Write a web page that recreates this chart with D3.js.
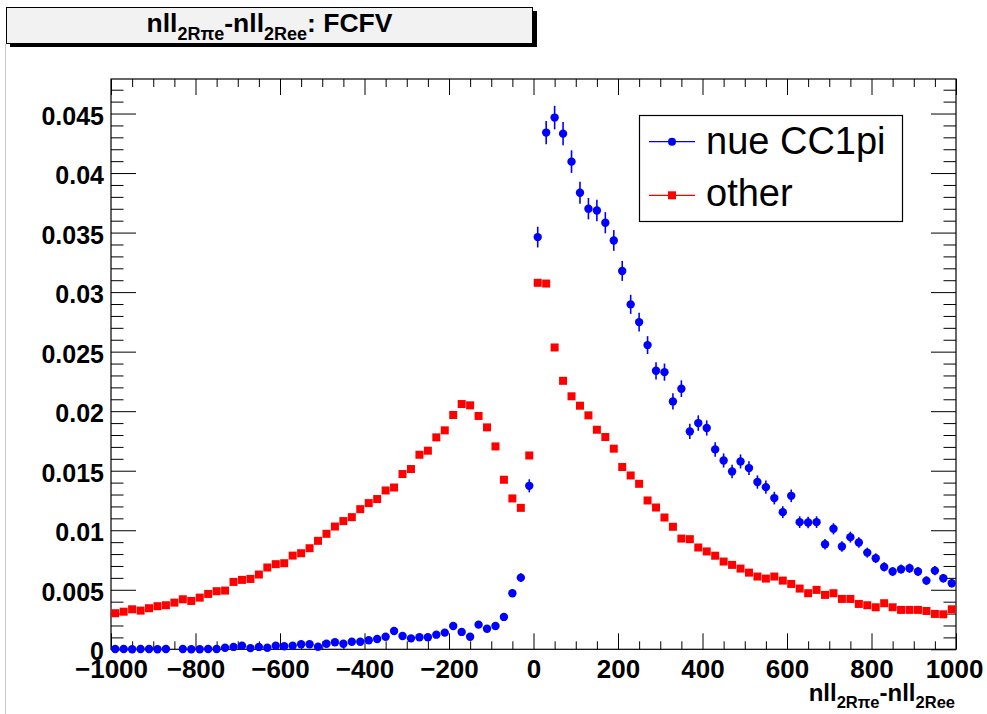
<!DOCTYPE html>
<html>
<head>
<meta charset="utf-8">
<script src="https://cdn.jsdelivr.net/npm/d3@7"></script>
<style>
  html, body { margin: 0; padding: 0; background: #fff; }
  svg { display: block; }
  text { font-family: "Liberation Sans", Arial, Helvetica, sans-serif; }
</style>
</head>
<body>
<svg id="chart" width="987" height="714"></svg>
<script>
// ---------------- data ----------------
const binLow = -1000;      // first bin lower edge
const binWidth = 20;       // bin width
const seriesNames = ["nue CC1pi", "other"];

// nue CC1pi (blue circles), 100 bins from -1000 to 1000; null = empty bin
const nueCC1pi = [
  0.00003, 0.00002, 0.00001, 0.00002, 0.00002, 0.00001, 0.00003, null, 0.00002, 0.00001,
  0.00001, 0.00003, 0.00002, 0.00013, 0.00020, 0.00030, 0.00010, 0.00020, 0.00013, 0.00030,
  0.00025, 0.00030, 0.00042, 0.00042, 0.00022, 0.00047, 0.00059, 0.00047, 0.00064, 0.00064,
  0.00076, 0.00087, 0.00106, 0.00154, 0.00112, 0.00092, 0.00101, 0.00101, 0.00123, 0.00140,
  0.00196, 0.00146, 0.00106, 0.00207, 0.00173, 0.00196, 0.00272, 0.00471, 0.00602, 0.01373,
  0.03462, 0.04340, 0.04466, 0.04331, 0.04096, 0.03835, 0.03701, 0.03686, 0.03583, 0.03434,
  0.03178, 0.02897, 0.02748, 0.02555, 0.02339, 0.02328, 0.02082, 0.02189, 0.01830, 0.01900,
  0.01859, 0.01679, 0.01586, 0.01494, 0.01578, 0.01522, 0.01405, 0.01362, 0.01270, 0.01152,
  0.01289, 0.01068, 0.01065, 0.01068, 0.00883, 0.01012, 0.00863, 0.00942, 0.00897, 0.00812,
  0.00765, 0.00692, 0.00653, 0.00673, 0.00681, 0.00653, 0.00577, 0.00661, 0.00597, 0.00555
];
// vertical error bars of nue CC1pi
const nueCC1piErr = [
  0.00003, 0.00003, 0.00002, 0.00003, 0.00003, 0.00002, 0.00003, null, 0.00003, 0.00002,
  0.00002, 0.00003, 0.00003, 0.00005, 0.00007, 0.00008, 0.00005, 0.00007, 0.00005, 0.00008,
  0.00007, 0.00008, 0.00010, 0.00010, 0.00007, 0.00010, 0.00011, 0.00010, 0.00012, 0.00012,
  0.00013, 0.00014, 0.00015, 0.00018, 0.00016, 0.00014, 0.00015, 0.00015, 0.00016, 0.00018,
  0.00021, 0.00018, 0.00015, 0.00021, 0.00020, 0.00021, 0.00024, 0.00032, 0.00036, 0.00055,
  0.00087, 0.00098, 0.00099, 0.00098, 0.00095, 0.00092, 0.00090, 0.00090, 0.00089, 0.00087,
  0.00084, 0.00080, 0.00078, 0.00075, 0.00072, 0.00072, 0.00068, 0.00070, 0.00064, 0.00065,
  0.00064, 0.00061, 0.00059, 0.00057, 0.00059, 0.00058, 0.00056, 0.00055, 0.00053, 0.00050,
  0.00053, 0.00049, 0.00049, 0.00049, 0.00044, 0.00047, 0.00044, 0.00046, 0.00045, 0.00042,
  0.00041, 0.00039, 0.00038, 0.00039, 0.00039, 0.00038, 0.00036, 0.00038, 0.00036, 0.00035
];
// other (red squares)
const other = [
  0.00303, 0.00316, 0.00336, 0.00325, 0.00345, 0.00362, 0.00370, 0.00392, 0.00420, 0.00406,
  0.00434, 0.00465, 0.00488, 0.00493, 0.00566, 0.00583, 0.00591, 0.00628, 0.00687, 0.00715,
  0.00723, 0.00787, 0.00807, 0.00849, 0.00911, 0.00970, 0.01031, 0.01077, 0.01110, 0.01177,
  0.01228, 0.01262, 0.01334, 0.01359, 0.01472, 0.01514, 0.01634, 0.01668, 0.01780, 0.01839,
  0.01968, 0.02060, 0.02049, 0.01960, 0.01864, 0.01704, 0.01424, 0.01267, 0.01188, 0.01628,
  0.03078, 0.03072, 0.02535, 0.02255, 0.02125, 0.02046, 0.01965, 0.01844, 0.01783, 0.01685,
  0.01531, 0.01460, 0.01390, 0.01250, 0.01191, 0.01107, 0.01029, 0.00930, 0.00925, 0.00855,
  0.00822, 0.00786, 0.00737, 0.00709, 0.00678, 0.00644, 0.00611, 0.00594, 0.00611, 0.00577,
  0.00549, 0.00510, 0.00471, 0.00499, 0.00457, 0.00471, 0.00423, 0.00423, 0.00381, 0.00370,
  0.00353, 0.00387, 0.00353, 0.00331, 0.00331, 0.00331, 0.00322, 0.00297, 0.00294, 0.00336
];

const xMajorTicks = [-1000, -800, -600, -400, -200, 0, 200, 400, 600, 800, 1000];
const xTickLabels = ["\u22121000", "\u2212800", "\u2212600", "\u2212400", "\u2212200", "0", "200", "400", "600", "800", "1000"];
const yMajorTicks = [0, 0.005, 0.01, 0.015, 0.02, 0.025, 0.03, 0.035, 0.04, 0.045];
const yTickLabels = ["0", "0.005", "0.01", "0.015", "0.02", "0.025", "0.03", "0.035", "0.04", "0.045"];

// ---------------- layout ----------------
const L = 111, R = 956, T = 79, B = 649.3;
const svg = d3.select("#chart");

const x = d3.scaleLinear().domain([-1000, 1000]).range([L, R]);
const y = d3.scaleLinear().domain([0, 0.0479]).range([B, T]);

const xMinor = d3.range(-1000, 1000.1, 50).filter(v => !xMajorTicks.includes(v));
const yMinor = d3.range(0, 0.0475, 0.001).map(v => +v.toFixed(3)).filter(v => !yMajorTicks.some(m => Math.abs(m - v) < 1e-9));

// canvas border line on the left
svg.append("line").attr("x1", 5.5).attr("x2", 5.5).attr("y1", 44).attr("y2", 714)
  .attr("stroke", "#c8c8c8").attr("stroke-width", 1);

// ---------------- axes ----------------
function styleAxis(g) {
  g.select(".domain").remove();
  g.selectAll("line").attr("stroke", "#000").attr("stroke-width", 1);
}
// bottom: majors with labels
const xAxis = svg.append("g").attr("transform", `translate(0,${B})`)
  .call(d3.axisBottom(x).tickValues(xMajorTicks).tickSize(-16).tickSizeOuter(0).tickPadding(10)
    .tickFormat((d, i) => xTickLabels[i]));
styleAxis(xAxis);
xAxis.selectAll("text").attr("font-size", 26).attr("font-weight", "bold").attr("fill", "#000")
  .attr("font-family", "'Liberation Sans', Arial, sans-serif");
// keep last label inside the canvas
xAxis.selectAll(".tick").filter(d => d === 1000).select("text").attr("text-anchor", "end").attr("x", 983 - x(1000));
svg.append("g").attr("transform", `translate(0,${B})`)
  .call(d3.axisBottom(x).tickValues(xMinor).tickSize(-8).tickSizeOuter(0).tickFormat(""))
  .call(styleAxis);
// top axis ticks
svg.append("g").attr("transform", `translate(0,${T})`)
  .call(d3.axisTop(x).tickValues(xMajorTicks).tickSize(-16).tickSizeOuter(0).tickFormat(""))
  .call(styleAxis);
svg.append("g").attr("transform", `translate(0,${T})`)
  .call(d3.axisTop(x).tickValues(xMinor).tickSize(-8).tickSizeOuter(0).tickFormat(""))
  .call(styleAxis);

// left axis
const yAxis = svg.append("g").attr("transform", `translate(${L},0)`)
  .call(d3.axisLeft(y).tickValues(yMajorTicks).tickSize(-25).tickSizeOuter(0).tickPadding(7)
    .tickFormat((d, i) => yTickLabels[i]));
styleAxis(yAxis);
yAxis.selectAll("text").attr("font-size", 25).attr("font-weight", "bold").attr("fill", "#000")
  .attr("dy", "0.42em").attr("font-family", "'Liberation Sans', Arial, sans-serif");
svg.append("g").attr("transform", `translate(${L},0)`)
  .call(d3.axisLeft(y).tickValues(yMinor).tickSize(-12.5).tickSizeOuter(0).tickFormat(""))
  .call(styleAxis);
// right axis ticks
svg.append("g").attr("transform", `translate(${R},0)`)
  .call(d3.axisRight(y).tickValues(yMajorTicks).tickSize(-25).tickSizeOuter(0).tickFormat(""))
  .call(styleAxis);
svg.append("g").attr("transform", `translate(${R},0)`)
  .call(d3.axisRight(y).tickValues(yMinor).tickSize(-12.5).tickSizeOuter(0).tickFormat(""))
  .call(styleAxis);

// frame
svg.append("rect").attr("x", L).attr("y", T).attr("width", R - L).attr("height", B - T)
  .attr("fill", "none").attr("stroke", "#000").attr("stroke-width", 1.2);

// ---------------- data marks ----------------
const center = i => binLow + binWidth * (i + 0.5);
const blueData = nueCC1pi.map((v, i) => ({ x: center(i), v, e: nueCC1piErr[i] })).filter(d => d.v !== null);
const redData = other.map((v, i) => ({ x: center(i), v }));

const plot = svg.append("g");
plot.selectAll("line.err").data(blueData).enter().append("line").attr("class", "err")
  .attr("x1", d => x(d.x)).attr("x2", d => x(d.x))
  .attr("y1", d => y(Math.max(0, d.v - d.e))).attr("y2", d => y(d.v + d.e))
  .attr("stroke", "#0000ff").attr("stroke-width", 1.6);
plot.selectAll("rect.other").data(redData).enter().append("rect").attr("class", "other")
  .attr("x", d => x(d.x) - 4).attr("y", d => y(d.v) - 4).attr("width", 8).attr("height", 8)
  .attr("fill", "#ff0000");
plot.selectAll("circle.nue").data(blueData).enter().append("circle").attr("class", "nue")
  .attr("cx", d => x(d.x)).attr("cy", d => y(d.v)).attr("r", 4.2)
  .attr("fill", "#0000ff");

// ---------------- legend ----------------
const leg = svg.append("g");
leg.append("rect").attr("x", 639.5).attr("y", 115.5).attr("width", 263).attr("height", 106)
  .attr("fill", "#fff").attr("stroke", "#000").attr("stroke-width", 1.2);
const legRows = [
  { name: seriesNames[0], color: "#0000ff", shape: "circle", ly: 141.7, ty: 153.5 },
  { name: seriesNames[1], color: "#ff0000", shape: "square", ly: 195.3, ty: 206 }
];
legRows.forEach(r => {
  leg.append("line").attr("x1", 649).attr("x2", 695).attr("y1", r.ly).attr("y2", r.ly)
    .attr("stroke", r.color).attr("stroke-width", 1.2);
  if (r.shape === "circle") leg.append("circle").attr("cx", 672).attr("cy", r.ly).attr("r", 4).attr("fill", r.color);
  else leg.append("rect").attr("x", 668).attr("y", r.ly - 4).attr("width", 8).attr("height", 8).attr("fill", r.color);
  leg.append("text").attr("x", 706).attr("y", r.ty).attr("font-size", 38).attr("fill", "#000").text(r.name);
});

// ---------------- title box ----------------
svg.append("rect").attr("x", 10).attr("y", 11).attr("width", 527).attr("height", 36).attr("fill", "#000");
svg.append("rect").attr("x", 6.5).attr("y", 7.5).attr("width", 526).attr("height", 36)
  .attr("fill", "#f2f2f2").attr("stroke", "#000").attr("stroke-width", 1);

function richLabel(sel, parts, mainSize, subSize, subShift) {
  parts.forEach(p => {
    const ts = sel.append("tspan").text(p.t);
    if (p.sub) ts.attr("font-size", subSize).attr("dy", subShift);
    else ts.attr("font-size", mainSize).attr("dy", p.after ? -subShift : 0);
  });
}
const titleParts = [
  { t: "nll" }, { t: "2R\u03c0e", sub: true }, { t: "-nll", after: true }, { t: "2Ree", sub: true }, { t: ": FCFV", after: true }
];
const title = svg.append("text").attr("x", 269.5).attr("y", 32).attr("text-anchor", "middle")
  .attr("font-weight", "bold").attr("fill", "#000");
richLabel(title, titleParts, 26.5, 18, 8);

// x axis title
const xTitleParts = [
  { t: "nll" }, { t: "2R\u03c0e", sub: true }, { t: "-nll", after: true }, { t: "2Ree", sub: true }
];
const xTitle = svg.append("text").attr("x", 955).attr("y", 701).attr("text-anchor", "end")
  .attr("font-weight", "bold").attr("fill", "#000");
richLabel(xTitle, xTitleParts, 24, 16.5, 7);
</script>
</body>
</html>
